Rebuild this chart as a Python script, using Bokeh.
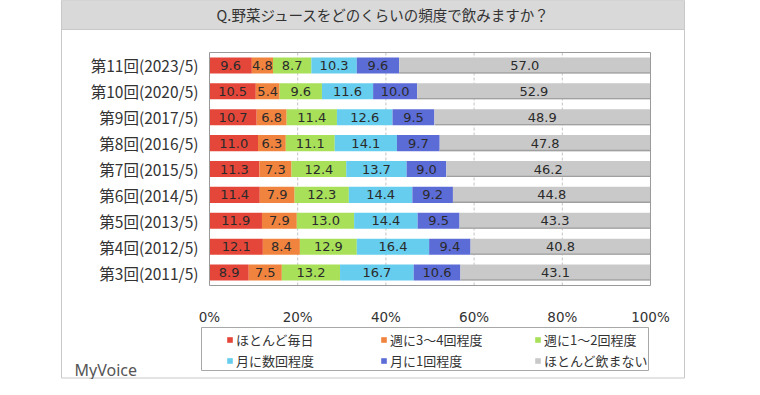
from bokeh.plotting import figure
from bokeh.models import Range1d, FixedTicker, Legend, LegendItem
from bokeh.embed import file_html
from bokeh.resources import INLINE
from bokeh.core.properties import value

# ---------------- data ----------------
title_text = "Q.野菜ジュースをどのくらいの頻度で飲みますか？"
categories = ["第11回(2023/5)", "第10回(2020/5)", "第9回(2017/5)", "第8回(2016/5)",
              "第7回(2015/5)", "第6回(2014/5)", "第5回(2013/5)", "第4回(2012/5)",
              "第3回(2011/5)"]
series_names = ["ほとんど毎日", "週に3～4回程度", "週に1～2回程度",
                "月に数回程度", "月に1回程度", "ほとんど飲まない"]
daily       = [9.6, 10.5, 10.7, 11.0, 11.3, 11.4, 11.9, 12.1, 8.9]
weekly_3_4  = [4.8, 5.4, 6.8, 6.3, 7.3, 7.9, 7.9, 8.4, 7.5]
weekly_1_2  = [8.7, 9.6, 11.4, 11.1, 12.4, 12.3, 13.0, 12.9, 13.2]
monthly_few = [10.3, 11.6, 12.6, 14.1, 13.7, 14.4, 14.4, 16.4, 16.7]
monthly_1   = [9.6, 10.0, 9.5, 9.7, 9.0, 9.2, 9.5, 9.4, 10.6]
rarely      = [57.0, 52.9, 48.9, 47.8, 46.2, 44.8, 43.3, 40.8, 43.1]
x_ticks = [0, 20, 40, 60, 80, 100]
brand = "MyVoice"

series_values = [daily, weekly_3_4, weekly_1_2, monthly_few, monthly_1, rarely]
colors = ["#e4473a", "#f0843f", "#a8e05a", "#66cdee", "#5c6cd6", "#c9c9c9"]

# ---------------- layout (pixel geometry of the plot area) ----------------
W, H = 744, 379
L, R = 209, 650      # plot area left/right in px
T, B = 52, 285       # plot area top/bottom in px
n = len(categories)
y_lo, y_hi = -0.5, n - 0.5


def px_x(px):
    return (px - L) / (R - L) * 100.0


def px_y(py):
    return y_hi - (py - T) / (B - T) * (y_hi - y_lo)


p = figure(width=W, height=H, output_backend="svg", toolbar_location=None,
           x_range=Range1d(px_x(0), px_x(W)), y_range=Range1d(px_y(H), px_y(0)),
           min_border=0)
p.background_fill_color = "white"
p.border_fill_color = "white"
p.outline_line_color = None

# ---------------- decorations: outer frame and title band ----------------
p.quad(left=[px_x(61)], right=[px_x(684)], top=[px_y(0)], bottom=[px_y(377.5)],
       fill_alpha=0, line_color="#c8c8c8", line_width=1)
p.quad(left=[px_x(61)], right=[px_x(684)], top=[px_y(0)], bottom=[px_y(29)],
       fill_color="#d9d9d9", line_color="#c8c8c8", line_width=1)
p.text(x=[px_x(383)], y=[px_y(14)], text=[title_text], text_align="center",
       text_baseline="middle", text_font=value("Noto Sans CJK JP"),
       text_font_size="14.5px", text_color="#333333")

# ---------------- grid lines ----------------
p.segment(x0=x_ticks[1:-1], x1=x_ticks[1:-1], y0=[y_lo] * (len(x_ticks) - 2),
          y1=[y_hi] * (len(x_ticks) - 2), line_color="#c4c4c4", line_dash="3 2",
          line_width=1)

ys = [n - 1 - i for i in range(n)]

# ---------------- bars ----------------
renderers = []
left = [0.0] * n
FONT_NUM = value("DejaVu Sans")
label_batches = []
for name, vals, col in zip(series_names, series_values, colors):
    right = [l + v for l, v in zip(left, vals)]
    r = p.hbar(y=ys, left=left, right=right, height=0.62, fill_color=col,
               line_color=None)
    renderers.append(r)
    centers = [(l + rr) / 2 for l, rr in zip(left, right)]
    label_batches.append((centers, vals))
    left = right

# darker bottom edge on the grey segments
gray_left = [100 - v for v in rarely]
p.hbar(y=[y - 0.285 for y in ys], left=gray_left, right=[100] * n, height=0.05,
       fill_color="#a0a0a0", line_color=None)

for centers, vals in label_batches:
    p.text(x=centers, y=ys, text=[f"{v:.1f}" for v in vals], text_align="center",
           text_baseline="middle", text_font=FONT_NUM, text_font_size="13px",
           text_color="#2a2a2a")

p.quad(left=[0], right=[100], top=[y_hi], bottom=[y_lo], fill_alpha=0,
       line_color="#9a9a9a", line_width=1)

# ---------------- axes (fixed at the plot-area edges) ----------------
xa = p.xaxis[0]
xa.fixed_location = y_lo
xa.ticker = FixedTicker(ticks=x_ticks)
xa.major_label_overrides = {t: f"{t}%" for t in x_ticks}
xa.axis_line_color = None
xa.major_tick_line_color = None
xa.minor_tick_line_color = None
xa.major_tick_out = 0
xa.major_tick_in = 0
xa.major_label_standoff = 23
xa.major_label_text_font = "DejaVu Sans"
xa.major_label_text_font_size = "13.5px"
xa.major_label_text_color = "#333333"

ya = p.yaxis[0]
ya.fixed_location = 0
ya.ticker = FixedTicker(ticks=ys)
ya.major_label_overrides = {y: c for y, c in zip(ys, categories)}
ya.axis_line_color = None
ya.major_tick_line_color = None
ya.minor_tick_line_color = None
ya.major_tick_out = 0
ya.major_tick_in = 0
ya.major_label_standoff = 11
ya.major_label_text_font = "Noto Sans CJK JP"
ya.major_label_text_font_size = "15.5px"
ya.major_label_text_color = "#333333"

p.xgrid.grid_line_color = None
p.ygrid.grid_line_color = None

# ---------------- legend ----------------
p.quad(left=[px_x(201)], right=[px_x(648)], top=[px_y(327)], bottom=[px_y(370)],
       fill_alpha=0, line_color="#a8a8a8", line_width=1)

legend_h = 41
legend = Legend(items=[LegendItem(label=nm, renderers=[r])
                       for nm, r in zip(series_names, renderers)],
                orientation="horizontal", ncols=3,
                location=(226, H - 329 - legend_h),
                border_line_color=None, background_fill_alpha=0,
                padding=0, margin=0, spacing=1,
                glyph_width=7, glyph_height=7, label_standoff=3,
                label_width=143, label_height=20,
                label_text_font="Noto Sans CJK JP", label_text_font_size="13px",
                label_text_color="#333333")
p.add_layout(legend, "center")

p.text(x=[px_x(74)], y=[px_y(369)], text=[brand], text_align="left",
       text_baseline="middle", text_font=value("Noto Sans"),
       text_font_size="16px", text_color="#555555")

open("out.html", "w").write(file_html(p, INLINE))
